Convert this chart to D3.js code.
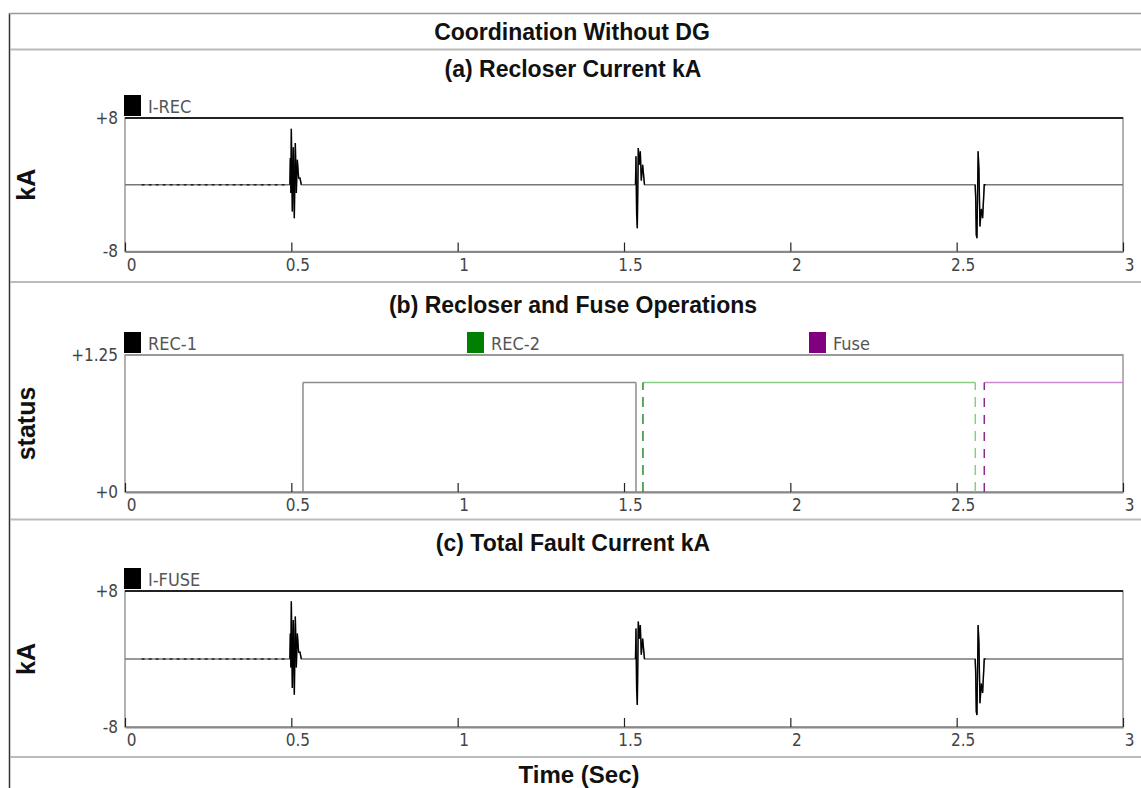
<!DOCTYPE html>
<html>
<head>
<meta charset="utf-8">
<script src="https://cdn.jsdelivr.net/npm/d3@7"></script>
<style>
  body { margin: 0; background: #fff; }
  svg { display: block; }
  .title { font-family: 'Liberation Sans', Arial, sans-serif; font-weight: bold; fill: #111; }
  .tick-label { font-family: 'Liberation Sans Narrow', 'DejaVu Sans Condensed', 'Liberation Sans', sans-serif; fill: #444; }
</style>
</head>
<body>
<svg width="1141" height="788"></svg>
<script>
// time axis (seconds)
var timeTicks = [0, 0.5, 1, 1.5, 2, 2.5, 3];

// recloser current I-REC, kA  [time, value] around each fault
var recBurst1 = [[0.4955, 0], [0.497, 3.2], [0.4985, -1.0], [0.500, 6.7], [0.503, -3.2], [0.506, 4.5], [0.509, -4.0], [0.512, 5.0], [0.515, -1.0], [0.518, 3.0], [0.522, 0.8], [0.526, 0.8], [0.530, 0]];
var recBurst2 = [[1.5345, 0], [1.536, 3.4], [1.538, -3.6], [1.540, -5.2], [1.543, 4.4], [1.546, 2.4], [1.549, 4.0], [1.552, 0.5], [1.556, 2.4], [1.5616, 0]];
var recBurst3 = [[2.5556, 0], [2.557, -1.4], [2.559, -6.0], [2.561, -6.4], [2.5645, 4.0], [2.567, 1.8], [2.570, -5.0], [2.574, -2.9], [2.578, -4.0], [2.583, 0], [2.587, 0]];

// total fault current I-FUSE, kA
var fuseBurst1 = [[0.4955, 0], [0.497, 3.0], [0.4985, -1.0], [0.500, 6.8], [0.503, -3.4], [0.506, 4.6], [0.509, -4.2], [0.512, 5.0], [0.515, -1.0], [0.518, 3.0], [0.522, 0.8], [0.526, 0.8], [0.530, 0]];
var fuseBurst2 = [[1.5345, 0], [1.536, 3.6], [1.538, -3.6], [1.540, -5.4], [1.543, 4.4], [1.546, 2.4], [1.549, 4.0], [1.552, 0.5], [1.556, 2.4], [1.5616, 0]];
var fuseBurst3 = [[2.5556, 0], [2.557, -1.4], [2.559, -6.2], [2.561, -6.6], [2.5645, 4.0], [2.567, 1.8], [2.570, -5.2], [2.574, -2.9], [2.578, -4.0], [2.583, 0], [2.587, 0]];

// noisy pre-fault stretch [start, end]
var preFault = [0.05, 0.49];

// breaker status
var rec1Times = [0, 0.535, 1.536, 3];
var rec1States = [0, 1, 0, 0];
var rec2Times = [0, 1.557, 2.556, 3];
var rec2States = [0, 1, 0, 0];
var fuseTimes = [0, 2.583, 3];
var fuseStates = [0, 1, 1];

var svg = d3.select('svg');
var W = 1141;

var x = d3.scaleLinear().domain([0, 3]).range([125, 1123]);

// page frame
svg.append('line').attr('x1', 9.5).attr('x2', 9.5).attr('y1', 13).attr('y2', 788)
  .attr('stroke', '#333').attr('stroke-width', 1.5);
svg.append('line').attr('x1', 9).attr('x2', W).attr('y1', 13.5).attr('y2', 13.5)
  .attr('stroke', '#999').attr('stroke-width', 1.5);
[49.5, 282, 519.5, 757].forEach(function (yy) {
  svg.append('line').attr('x1', 10).attr('x2', W).attr('y1', yy).attr('y2', yy)
    .attr('stroke', '#bbb').attr('stroke-width', 2);
});

svg.append('text').attr('class', 'title').attr('x', 572).attr('y', 40)
  .attr('text-anchor', 'middle').style('font-size', '23px').text('Coordination Without DG');
svg.append('text').attr('class', 'title').attr('x', 579).attr('y', 783)
  .attr('text-anchor', 'middle').style('font-size', '24px').text('Time (Sec)');

function panel(opt) {
  var g = svg.append('g');
  var y = d3.scaleLinear().domain(opt.domain).range([opt.bottom, opt.top]);

  g.append('text').attr('class', 'title').attr('x', 573).attr('y', opt.titleY)
    .attr('text-anchor', 'middle').style('font-size', '23px').text(opt.title);
  g.append('text').attr('class', 'title')
    .attr('transform', 'translate(35,' + (opt.top + opt.bottom) / 2 + ') rotate(-90)')
    .attr('text-anchor', 'middle').style('font-size', '25px').text(opt.ylabel);

  // legend
  opt.legend.forEach(function (l) {
    g.append('rect').attr('x', l.x).attr('y', opt.top - 23).attr('width', 17).attr('height', 21)
      .attr('fill', l.color);
    g.append('text').attr('class', 'tick-label').attr('x', l.x + 24).attr('y', opt.top - 5)
      .style('font-size', '18px').style('fill', '#555').text(l.name);
  });

  // plot box
  g.append('rect').attr('x', x(0)).attr('y', opt.top)
    .attr('width', x(3) - x(0)).attr('height', opt.bottom - opt.top)
    .attr('fill', 'none').attr('stroke', '#999').attr('stroke-width', 1.5);
  g.append('line').attr('x1', x(0)).attr('x2', x(3)).attr('y1', opt.top).attr('y2', opt.top)
    .attr('stroke', opt.topColor).attr('stroke-width', 2);

  // x axis, ticks pointing up into the plot
  var xAxis = d3.axisBottom(x).tickValues(timeTicks).tickSizeInner(-9).tickSizeOuter(0)
    .tickPadding(7).tickFormat(d3.format(''));
  var xa = g.append('g').attr('transform', 'translate(0,' + opt.bottom + ')').call(xAxis);
  xa.select('.domain').attr('stroke', '#888').attr('stroke-width', 2);
  xa.selectAll('.tick line').attr('stroke', '#222').attr('stroke-width', 1.2);
  xa.selectAll('.tick text').attr('class', 'tick-label').attr('dx', 6)
    .style('font-size', '17px').attr('fill', '#555');

  // y axis, just the end labels
  var yAxis = d3.axisLeft(y).tickValues(opt.domain).tickSize(0).tickPadding(7)
    .tickFormat(function (d) { return (d < 0 ? '-' : '+') + Math.abs(d); });
  var ya = g.append('g').attr('transform', 'translate(' + x(0) + ',0)').call(yAxis);
  ya.select('.domain').remove();
  ya.selectAll('.tick text').attr('class', 'tick-label').style('font-size', '17px').attr('fill', '#444');

  return {g: g, y: y};
}

function wavePanel(p, bursts) {
  var line = d3.line().x(function (d) { return x(d[0]); }).y(function (d) { return p.y(d[1]); });
  var all = [[0, 0]];
  bursts.forEach(function (b) { all = all.concat(b); });
  all.push([3, 0]);
  p.g.append('path').datum(all).attr('d', line)
    .attr('fill', 'none').attr('stroke', '#777').attr('stroke-width', 1.5);
  p.g.append('path').datum(preFault.map(function (t) { return [t, 0]; })).attr('d', line)
    .attr('fill', 'none').attr('stroke', '#222').attr('stroke-width', 1.5)
    .attr('stroke-dasharray', '3,4');
  bursts.forEach(function (b) {
    p.g.append('path').datum(b).attr('d', line)
      .attr('fill', 'none').attr('stroke', '#000').attr('stroke-width', 1.3);
  });
}

var pa = panel({
  title: '(a) Recloser Current kA', titleY: 77, ylabel: 'kA',
  domain: [-8, 8], top: 118, bottom: 251.5, topColor: '#222',
  legend: [{name: 'I-REC', color: '#000', x: 124}]
});
wavePanel(pa, [recBurst1, recBurst2, recBurst3]);

var pb = panel({
  title: '(b) Recloser and Fuse Operations', titleY: 313, ylabel: 'status',
  domain: [0, 1.25], top: 355, bottom: 492, topColor: '#999',
  legend: [
    {name: 'REC-1', color: '#000', x: 124},
    {name: 'REC-2', color: '#008000', x: 467},
    {name: 'Fuse', color: '#800080', x: 809}
  ]
});

var steps = [
  {times: rec1Times, states: rec1States, light: '#8c8c8c', dark: '#8c8c8c', dash: null},
  {times: rec2Times, states: rec2States, light: '#88cc88', dark: '#2a8a2a', dash: '10,7'},
  {times: fuseTimes, states: fuseStates, light: '#cc88cc', dark: '#8a2a8a', dash: '9,8'}
];
steps.forEach(function (s) {
  for (var i = 0; i < s.times.length - 1; i++) {
    var v = s.states[i];
    if (v === 0) continue;
    pb.g.append('line')
      .attr('x1', x(s.times[i])).attr('x2', x(s.times[i + 1]))
      .attr('y1', pb.y(v)).attr('y2', pb.y(v))
      .attr('stroke', s.light).attr('stroke-width', 1.5);
  }
  for (var j = 1; j < s.times.length; j++) {
    if (s.states[j] === s.states[j - 1]) continue;
    var rising = s.states[j] > s.states[j - 1];
    pb.g.append('line')
      .attr('x1', x(s.times[j])).attr('x2', x(s.times[j]))
      .attr('y1', pb.y(0)).attr('y2', pb.y(1))
      .attr('stroke', rising ? s.dark : s.light).attr('stroke-width', 1.5)
      .attr('stroke-dasharray', s.dash);
  }
});

var pc = panel({
  title: '(c) Total Fault Current kA', titleY: 551, ylabel: 'kA',
  domain: [-8, 8], top: 591, bottom: 727, topColor: '#222',
  legend: [{name: 'I-FUSE', color: '#000', x: 124}]
});
wavePanel(pc, [fuseBurst1, fuseBurst2, fuseBurst3]);
</script>
</body>
</html>
